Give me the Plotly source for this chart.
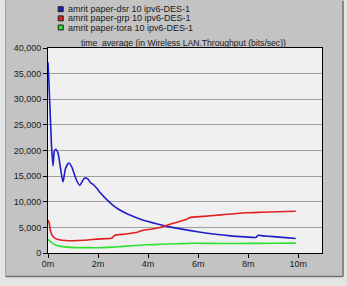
import plotly.graph_objects as go

# ---- data ----
dsr_name = "amrit paper-dsr 10 ipv6-DES-1"
grp_name = "amrit paper-grp 10 ipv6-DES-1"
tora_name = "amrit paper-tora 10 ipv6-DES-1"

dsr_t = [0, 0.04, 0.14, 0.2, 0.25, 0.31, 0.4, 0.5, 0.6, 0.7, 0.83, 0.95, 1.05, 1.15, 1.27,
         1.37, 1.47, 1.6, 1.7, 1.8, 1.94, 2.1, 2.34, 2.6, 2.87, 3.2, 3.67, 4.0, 4.67, 5.3,
         5.97, 6.7, 7.3, 7.9, 8.3, 8.4, 8.6, 9.0, 9.5, 9.9]
dsr_v = [37200, 33000, 21000, 17000, 19800, 20250, 19500, 16500, 13870, 16500, 17550, 16800,
         15400, 14100, 13200, 14000, 14650, 14400, 13700, 13400, 12700, 11700, 10450, 9300,
         8380, 7550, 6650, 6150, 5290, 4700, 4150, 3650, 3350, 3150, 3030, 3450, 3350, 3200,
         3000, 2840]

grp_t = [0, 0.04, 0.1, 0.2, 0.3, 0.5, 0.7, 0.9, 1.2, 1.6, 1.94, 2.3, 2.54, 2.67, 2.8, 3.2,
         3.6, 3.8, 4.1, 4.47, 5.0, 5.3, 5.54, 5.67, 6.2, 6.8, 7.3, 7.93, 8.5, 9.2, 9.9]
grp_v = [6400, 6000, 4300, 3200, 2800, 2550, 2450, 2400, 2450, 2550, 2700, 2800, 2900, 3450,
         3550, 3750, 4100, 4450, 4650, 4970, 5800, 6200, 6580, 6900, 7150, 7400, 7600, 7850,
         7950, 8050, 8150]

tora_t = [0, 0.1, 0.27, 0.5, 0.9, 1.5, 2.2, 2.6, 3.0, 3.5, 3.9, 4.5, 5.2, 5.8, 6.5, 7.3,
          8.0, 9.0, 9.9]
tora_v = [2650, 2200, 1600, 1300, 1100, 1050, 1050, 1150, 1300, 1450, 1600, 1700, 1800,
          1900, 1880, 1850, 1870, 1900, 1920]

x_ticks = [0, 2, 4, 6, 8, 10]
x_labels = ["0m", "2m", "4m", "6m", "8m", "10m"]
title_text = "time_average (in Wireless LAN.Throughput (bits/sec))"

# ---- layout geometry ----
W, Hh = 347, 286
L, R, T, B = 48.3, 322.0, 47.5, 253.5
PW, PH = R - L, B - T


def px(x):
    return (x - L) / PW


def py(y):
    return (B - y) / PH


FONT = "Liberation Sans, Arial, sans-serif"
colors = {"dsr": "#1f1fc8", "grp": "#e02020", "tora": "#30e030"}

fig = go.Figure()
fig.add_trace(go.Scatter(x=dsr_t, y=dsr_v, mode="lines", name=dsr_name,
                         line=dict(color=colors["dsr"], width=1.6, shape="spline", smoothing=0.6)))
fig.add_trace(go.Scatter(x=grp_t, y=grp_v, mode="lines", name=grp_name,
                         line=dict(color=colors["grp"], width=1.6, shape="spline", smoothing=0.6)))
fig.add_trace(go.Scatter(x=tora_t, y=tora_v, mode="lines", name=tora_name,
                         line=dict(color=colors["tora"], width=1.6, shape="spline", smoothing=0.6)))

shapes = []
annotations = []

# frame: outer light areas and dark bevel lines
outer = "#e4e4e4"
dark = "#707070"
shapes.append(dict(type="rect", xref="paper", yref="paper", x0=px(343.5), x1=px(W + 5),
                   y0=py(Hh + 5), y1=py(-5), fillcolor=outer, line=dict(width=0), layer="above"))
shapes.append(dict(type="rect", xref="paper", yref="paper", x0=px(-5), x1=px(W + 5),
                   y0=py(Hh + 5), y1=py(277.5), fillcolor=outer, line=dict(width=0), layer="above"))
shapes.append(dict(type="rect", xref="paper", yref="paper", x0=px(-5), x1=px(5.5),
                   y0=py(Hh + 5), y1=py(-5), fillcolor=outer, line=dict(width=0), layer="above"))
shapes.append(dict(type="line", xref="paper", yref="paper", x0=px(343), x1=px(343),
                   y0=py(277), y1=py(0), line=dict(color=dark, width=1.5), layer="above"))
shapes.append(dict(type="line", xref="paper", yref="paper", x0=px(6), x1=px(343),
                   y0=py(277), y1=py(277), line=dict(color=dark, width=1.5), layer="above"))
shapes.append(dict(type="line", xref="paper", yref="paper", x0=px(6), x1=px(6),
                   y0=py(277), y1=py(0), line=dict(color="#9a9a9a", width=1), layer="above"))

# legend (squares + text)
legend_rows = [(dsr_name, colors["dsr"]), (grp_name, colors["grp"]), (tora_name, colors["tora"])]
for i, (name, c) in enumerate(legend_rows):
    yc = 8.5 + i * 9.2
    shapes.append(dict(type="rect", xref="paper", yref="paper", x0=px(58.5), x1=px(63.5),
                       y0=py(yc + 2.5), y1=py(yc - 2.5), fillcolor=c,
                       line=dict(color="#202020", width=1), layer="above"))
    annotations.append(dict(xref="paper", yref="paper", x=px(66), y=py(yc), text=name,
                            showarrow=False, xanchor="left", yanchor="middle",
                            font=dict(family=FONT, size=9, color="#202020")))

annotations.append(dict(xref="paper", yref="paper", x=px(184), y=py(42.5), text=title_text,
                        showarrow=False, xanchor="center", yanchor="middle",
                        font=dict(family=FONT, size=8.6, color="#202020")))

fig.update_layout(
    width=W, height=Hh,
    margin=dict(l=L, r=W - R, t=T, b=Hh - B, pad=0),
    paper_bgcolor="#c3c3c3",
    plot_bgcolor="#f0f0f0",
    showlegend=False,
    shapes=shapes,
    annotations=annotations,
    font=dict(family=FONT, size=9, color="#202020"),
)
fig.update_xaxes(range=[0, 10.95], tickmode="array", tickvals=x_ticks, ticktext=x_labels,
                 showgrid=False, zeroline=False, showline=True, mirror=True, linecolor="#000",
                 linewidth=1, ticks="outside", ticklen=4, tickcolor="#000",
                 ticklabelstandoff=-2,
                 tickfont=dict(family=FONT, size=9, color="#202020"))
fig.update_yaxes(range=[0, 40000], dtick=5000, tickformat=",d", showgrid=True,
                 gridcolor="#a0a0a0", gridwidth=1, zeroline=False, showline=True, mirror=True,
                 linecolor="#000", linewidth=1, ticks="outside", ticklen=4, tickcolor="#000",
                 tickfont=dict(family=FONT, size=9, color="#202020"))

fig.write_html("out.html")
